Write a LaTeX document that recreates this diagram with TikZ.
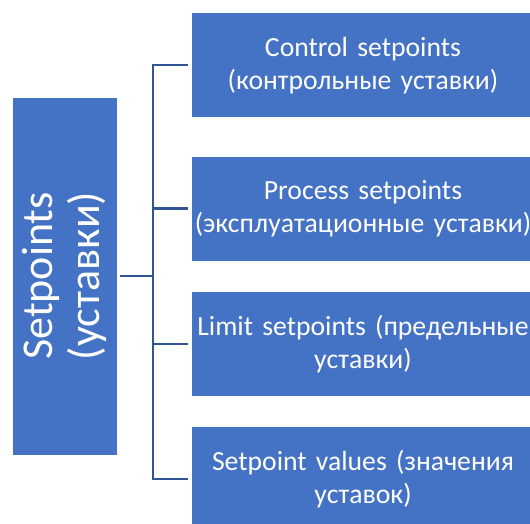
\documentclass[tikz,border=0pt]{standalone}
\usepackage{fontspec}
\setmainfont{Carlito}
\definecolor{boxblue}{HTML}{4472C4}
\definecolor{linkblue}{HTML}{2F5597}
\begin{document}
\begin{tikzpicture}[x=1pt,y=1pt,
  box/.style={rectangle, fill=boxblue, draw=white, line width=0.8pt, text=white},
  rootbox/.style={box, rotate=90, minimum width=358pt, minimum height=105pt,
    inner sep=0pt, align=center, font=\fontsize{44}{47}\selectfont},
  leafbox/.style={box, minimum width=344pt, minimum height=105pt,
    text width=360pt, inner xsep=-8pt, inner ysep=0pt, align=center,
    font=\fontsize{27.7}{33}\selectfont},
  link/.style={draw=linkblue, line width=2.4pt}]
\clip (0,0) rectangle (530,524);

% root of the tree, set sideways
\node[rootbox] (root) at (64.5,248) {Setpoints\\(уставки)};

% the four kinds of setpoints
\node[leafbox] (c1) at (363,458.7) {Control setpoints\\(контрольные уставки)};
\node[leafbox] (c2) at (363,315.3) {Process setpoints\\(эксплуатационные уставки)};
\node[leafbox] (c3) at (363,180.2) {Limit setpoints (предельные\\уставки)};
\node[leafbox] (c4) at (363,45)    {Setpoint values (значения\\уставок)};

% bracket connectors
\coordinate (hub) at (153,248);
\draw[link, shorten <=2.5pt] (root.south) -- (hub);
\foreach \b in {c1,c2,c3,c4}
  \draw[link, shorten >=3pt] (hub) |- (\b.west);
\end{tikzpicture}
\end{document}
